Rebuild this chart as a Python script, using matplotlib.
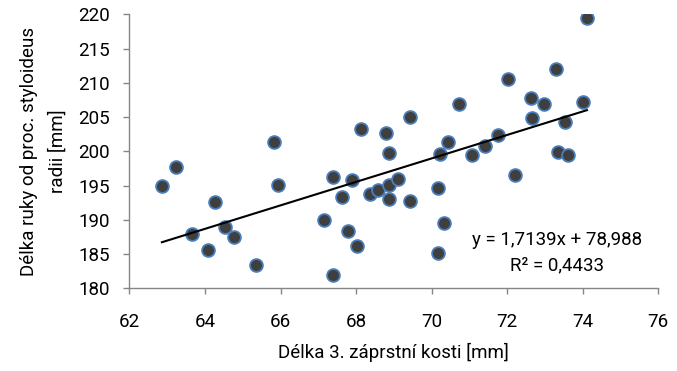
import matplotlib
matplotlib.use("Agg")
import matplotlib.pyplot as plt
import numpy as np

x_vals = [62.86, 63.23, 63.66, 64.09, 64.26, 64.54, 64.76, 65.34, 65.84, 65.94,
          67.16, 67.38, 67.40, 67.64, 67.79, 67.89, 68.02, 68.13, 68.37, 68.58,
          68.80, 68.86, 68.87, 68.86, 69.12, 69.43, 69.43, 70.18, 70.16, 70.32,
          70.22, 70.43, 70.73, 71.07, 71.41, 71.77, 72.02, 72.22, 72.62, 72.66,
          72.97, 73.28, 73.34, 73.54, 73.62, 74.02, 74.11]
y_vals = [194.9, 197.7, 187.9, 185.6, 192.6, 189.0, 187.5, 183.4, 201.4, 195.1,
          190.0, 196.3, 181.9, 193.3, 188.3, 195.8, 186.2, 203.3, 193.8, 194.3,
          202.6, 199.7, 195.1, 193.0, 195.9, 205.0, 192.7, 194.7, 185.2, 189.6,
          199.6, 201.3, 206.9, 199.4, 200.8, 202.4, 210.6, 196.6, 207.8, 204.9,
          206.9, 212.0, 199.9, 204.3, 199.4, 207.2, 219.4]
slope = 1.7139
intercept = 78.988
x_ticks = [62, 64, 66, 68, 70, 72, 74, 76]
y_ticks = [180, 185, 190, 195, 200, 205, 210, 215, 220]

plt.rcParams['font.family'] = ['Roboto', 'DejaVu Sans']

fig = plt.figure(figsize=(6.77, 3.71), dpi=100)
ax = fig.add_axes([129.4/677, (371-288.3)/371, (658.3-129.4)/677, (288.3-14.3)/371])

ax.scatter(x_vals, y_vals, s=85, facecolor='#3f3f3f', edgecolor='#4a7ebb', linewidth=1.3, zorder=3)
xs = np.array([min(x_vals), max(x_vals)])
ax.plot(xs, slope*xs + intercept, color='black', linewidth=1.5, zorder=4)

ax.set_xlim(62, 76)
ax.set_ylim(180, 220)
ax.set_xticks(x_ticks)
ax.set_yticks(y_ticks)
for s in ['top', 'right']:
    ax.spines[s].set_visible(False)
for s in ['left', 'bottom']:
    ax.spines[s].set_color('#868686')
    ax.spines[s].set_linewidth(1.0)
ax.tick_params(axis='both', colors='#868686', labelcolor='black', labelsize=13.5, length=4.5, width=1)
ax.tick_params(axis='x', pad=13)
ax.tick_params(axis='y', pad=9.5)

ax.set_xlabel('Délka 3. záprstní kosti [mm]', fontsize=13.5, labelpad=9)
ax.set_ylabel('Délka ruky od proc. styloideus\nradii [mm]', fontsize=13.5, labelpad=8, linespacing=1.75)

eq_x = (557 - 129.4) / (658.3 - 129.4)
ax.text(eq_x, (288.3 - 240) / 274, 'y = 1,7139x + 78,988', transform=ax.transAxes,
        ha='center', va='center', fontsize=13.5)
ax.text(eq_x, (288.3 - 265) / 274, 'R² = 0,4433', transform=ax.transAxes,
        ha='center', va='center', fontsize=13.5)

fig.savefig('out.png', dpi=100)
